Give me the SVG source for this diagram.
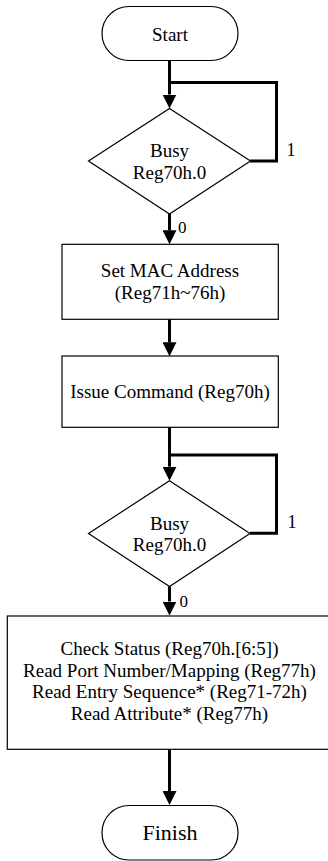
<svg xmlns="http://www.w3.org/2000/svg" width="328" height="861" viewBox="0 0 328 861">
  <style>
    .shape { fill: #ffffff; stroke: #000000; stroke-width: 1.2; }
    .conn { fill: none; stroke: #000000; stroke-width: 3; }
    .t { font-family: "Liberation Serif", "Times New Roman", serif; font-size: 19px; fill: #000000; text-anchor: middle; }
    .lbl { font-family: "Liberation Serif", "Times New Roman", serif; font-size: 18px; fill: #000000; }
  </style>
  <defs>
    <marker id="arrow" viewBox="0 0 14 14" markerWidth="14" markerHeight="14" markerUnits="userSpaceOnUse" refX="0" refY="7" orient="auto">
      <path d="M0,0 L14,7 L0,14 Z" fill="#000000"/>
    </marker>
  </defs>
  <rect width="328" height="861" fill="#ffffff"/>

  <g id="connectors">
    <path class="conn" d="M169.5,60.5 V94.5" marker-end="url(#arrow)"/>
    <path class="conn" d="M250,161 H276.5 V82.5 H169.5"/>
    <path class="conn" d="M169.5,214 V230.3" marker-end="url(#arrow)"/>
    <path class="conn" d="M169.5,319.3 V342.3" marker-end="url(#arrow)"/>
    <path class="conn" d="M169.5,427.3 V466.7" marker-end="url(#arrow)"/>
    <path class="conn" d="M250,533.3 H276.5 V455 H169.5"/>
    <path class="conn" d="M169.5,586.5 V601.5" marker-end="url(#arrow)"/>
    <path class="conn" d="M169.5,749.3 V791" marker-end="url(#arrow)"/>
    <text class="lbl" x="286.5" y="156">1</text>
    <text class="lbl" x="178" y="232.5" style="font-size:17px">0</text>
    <text class="lbl" x="287.5" y="528.3">1</text>
    <text class="lbl" x="179.5" y="606.5" style="font-size:17px">0</text>
  </g>

  <g id="start">
    <rect class="shape" x="102" y="6.5" width="136" height="54" rx="27" ry="27"/>
    <text class="t" x="170" y="40.5">Start</text>
  </g>

  <g id="busy1">
    <polygon class="shape" points="169.5,108.5 250.5,161 169.5,214 88.5,161"/>
    <text class="t" x="169.5" y="157.3">Busy</text>
    <text class="t" x="169.5" y="179">Reg70h.0</text>
  </g>

  <g id="setmac">
    <rect class="shape" x="62" y="244.3" width="216.3" height="75"/>
    <text class="t" x="170" y="277.3">Set MAC Address</text>
    <text class="t" x="170" y="299">(Reg71h~76h)</text>
  </g>

  <g id="issue">
    <rect class="shape" x="62" y="356" width="216.3" height="71.3"/>
    <text class="t" x="170" y="398.3">Issue Command (Reg70h)</text>
  </g>

  <g id="busy2">
    <polygon class="shape" points="169.5,480.7 250,533.5 169.5,586.5 88.5,533.5"/>
    <text class="t" x="169.5" y="529.5">Busy</text>
    <text class="t" x="169.5" y="551.3">Reg70h.0</text>
  </g>

  <g id="read">
    <rect class="shape" x="7.3" y="616" width="324.4" height="133.3"/>
    <text class="t" x="169.5" y="655">Check Status (Reg70h.[6:5])</text>
    <text class="t" x="169.5" y="676.7">Read Port Number/Mapping (Reg77h)</text>
    <text class="t" x="169.5" y="698.3">Read Entry Sequence* (Reg71-72h)</text>
    <text class="t" x="169.5" y="720">Read Attribute* (Reg77h)</text>
  </g>

  <g id="finish">
    <rect class="shape" x="102" y="805.5" width="136" height="54.5" rx="27" ry="27"/>
    <text class="t" x="170" y="840" style="font-size:22px">Finish</text>
  </g>
</svg>
